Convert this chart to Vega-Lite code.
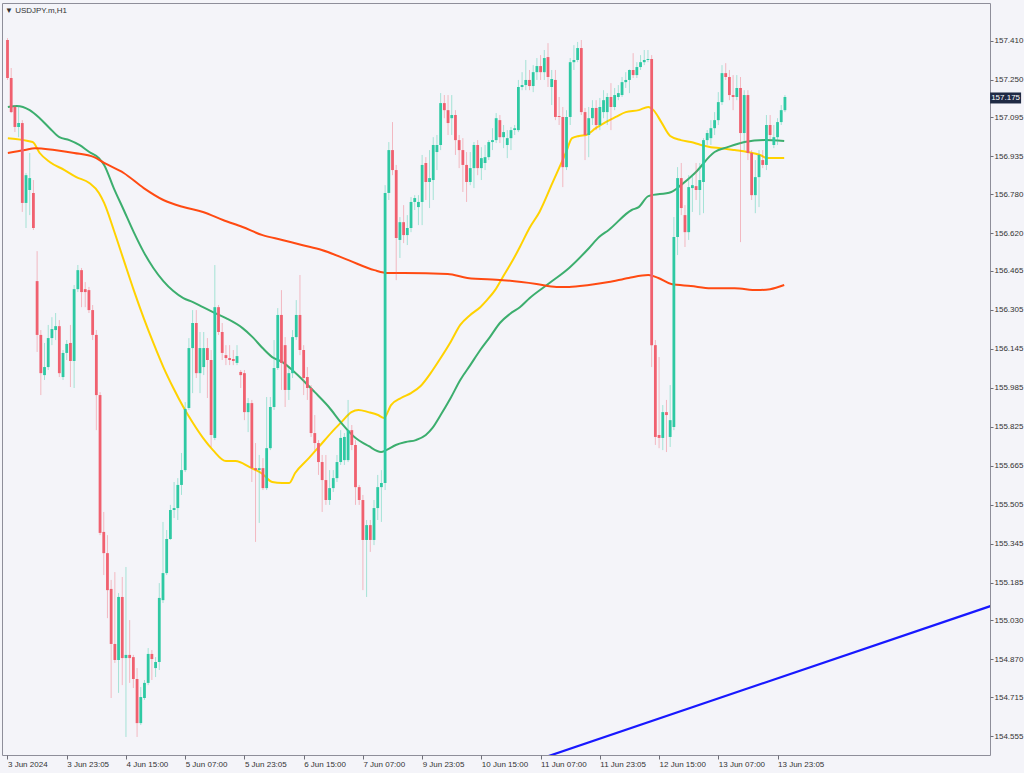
{
"$schema": "https://vega.github.io/schema/vega-lite/v6.json",
"width": 988, "height": 752,
"autosize": {"type": "none"},
"padding": {"left": 2, "top": 3, "right": 34, "bottom": 18},
"background": "#f4f4f9",
"title": {"text": "▼ USDJPY.m,H1", "anchor": "start", "orient": "top", "frame": "group", "offset": -12, "dx": 3, "fontSize": 8, "fontWeight": "normal", "color": "#333333", "font": "Liberation Sans Narrow, Liberation Sans"},
"config": {"view": {"stroke": "#8e8e9a", "strokeWidth": 1}, "font": "Liberation Sans Narrow, Liberation Sans"},
"datasets": {
"candles": [
{"t":0,"o":157.413,"h":157.421,"l":157.249,"c":157.257},
{"t":1,"o":157.257,"h":157.298,"l":157.113,"c":157.117},
{"t":2,"o":157.138,"h":157.146,"l":157.035,"c":157.056},
{"t":3,"o":157.056,"h":157.146,"l":157.014,"c":157.072},
{"t":4,"o":157.072,"h":157.084,"l":156.707,"c":156.744},
{"t":5,"o":156.744,"h":156.867,"l":156.641,"c":156.858},
{"t":6,"o":156.797,"h":156.949,"l":156.694,"c":156.846},
{"t":7,"o":156.785,"h":156.838,"l":156.633,"c":156.641},
{"t":8,"o":156.423,"h":156.546,"l":156.132,"c":156.202},
{"t":9,"o":156.202,"h":156.222,"l":155.955,"c":156.045},
{"t":10,"o":156.037,"h":156.169,"l":156.017,"c":156.070},
{"t":11,"o":156.070,"h":156.243,"l":156.058,"c":156.189},
{"t":12,"o":156.189,"h":156.275,"l":156.160,"c":156.226},
{"t":13,"o":156.222,"h":156.292,"l":156.181,"c":156.238},
{"t":14,"o":156.238,"h":156.263,"l":156.029,"c":156.045},
{"t":15,"o":156.029,"h":156.140,"l":156.017,"c":156.128},
{"t":16,"o":156.128,"h":156.181,"l":156.099,"c":156.165},
{"t":17,"o":156.169,"h":156.243,"l":155.988,"c":156.095},
{"t":18,"o":156.095,"h":156.407,"l":155.984,"c":156.390},
{"t":19,"o":156.390,"h":156.489,"l":156.378,"c":156.468},
{"t":20,"o":156.468,"h":156.477,"l":156.316,"c":156.378},
{"t":21,"o":156.390,"h":156.419,"l":156.316,"c":156.378},
{"t":22,"o":156.386,"h":156.399,"l":156.292,"c":156.304},
{"t":23,"o":156.304,"h":156.325,"l":156.181,"c":156.202},
{"t":24,"o":156.202,"h":156.222,"l":155.811,"c":155.955},
{"t":25,"o":155.955,"h":155.967,"l":155.380,"c":155.389},
{"t":26,"o":155.393,"h":155.475,"l":155.216,"c":155.306},
{"t":27,"o":155.306,"h":155.380,"l":155.039,"c":155.154},
{"t":28,"o":155.159,"h":155.196,"l":154.711,"c":154.933},
{"t":29,"o":154.933,"h":155.228,"l":154.855,"c":154.867},
{"t":30,"o":154.867,"h":155.142,"l":154.732,"c":155.126},
{"t":31,"o":155.126,"h":155.208,"l":154.764,"c":154.875},
{"t":32,"o":154.875,"h":155.249,"l":154.551,"c":154.888},
{"t":33,"o":154.888,"h":155.031,"l":154.773,"c":154.875},
{"t":34,"o":154.879,"h":154.888,"l":154.752,"c":154.789},
{"t":35,"o":154.789,"h":154.834,"l":154.551,"c":154.608},
{"t":36,"o":154.608,"h":154.756,"l":154.600,"c":154.715},
{"t":37,"o":154.711,"h":154.785,"l":154.703,"c":154.773},
{"t":38,"o":154.773,"h":154.916,"l":154.764,"c":154.892},
{"t":39,"o":154.892,"h":154.908,"l":154.785,"c":154.871},
{"t":40,"o":154.834,"h":154.879,"l":154.797,"c":154.859},
{"t":41,"o":154.859,"h":155.183,"l":154.826,"c":155.122},
{"t":42,"o":155.113,"h":155.434,"l":155.101,"c":155.224},
{"t":43,"o":155.224,"h":155.401,"l":155.216,"c":155.364},
{"t":44,"o":155.364,"h":155.504,"l":155.360,"c":155.483},
{"t":45,"o":155.483,"h":155.598,"l":155.450,"c":155.491},
{"t":46,"o":155.491,"h":155.614,"l":155.442,"c":155.586},
{"t":47,"o":155.586,"h":155.717,"l":155.545,"c":155.647},
{"t":48,"o":155.647,"h":155.926,"l":155.639,"c":155.898},
{"t":49,"o":155.902,"h":156.189,"l":155.894,"c":156.148},
{"t":50,"o":156.148,"h":156.304,"l":155.963,"c":156.251},
{"t":51,"o":156.251,"h":156.304,"l":156.025,"c":156.045},
{"t":52,"o":156.045,"h":156.214,"l":155.963,"c":156.148},
{"t":53,"o":156.070,"h":156.214,"l":156.037,"c":156.148},
{"t":54,"o":156.148,"h":156.189,"l":155.943,"c":156.099},
{"t":55,"o":156.099,"h":156.140,"l":155.742,"c":155.791},
{"t":56,"o":155.779,"h":156.489,"l":155.770,"c":156.316},
{"t":57,"o":156.316,"h":156.325,"l":156.202,"c":156.214},
{"t":58,"o":156.214,"h":156.251,"l":156.099,"c":156.128},
{"t":59,"o":156.119,"h":156.160,"l":156.078,"c":156.107},
{"t":60,"o":156.107,"h":156.160,"l":156.078,"c":156.099},
{"t":61,"o":156.103,"h":156.140,"l":156.078,"c":156.095},
{"t":62,"o":156.087,"h":156.160,"l":156.078,"c":156.115},
{"t":63,"o":156.050,"h":156.058,"l":155.984,"c":156.037},
{"t":64,"o":156.045,"h":156.058,"l":155.852,"c":155.885},
{"t":65,"o":155.885,"h":155.943,"l":155.803,"c":155.922},
{"t":66,"o":155.922,"h":155.935,"l":155.598,"c":155.655},
{"t":67,"o":155.655,"h":155.758,"l":155.352,"c":155.647},
{"t":68,"o":155.647,"h":155.709,"l":155.430,"c":155.655},
{"t":69,"o":155.655,"h":155.696,"l":155.565,"c":155.573},
{"t":70,"o":155.573,"h":155.947,"l":155.565,"c":155.737},
{"t":71,"o":155.737,"h":155.947,"l":155.729,"c":155.906},
{"t":72,"o":155.906,"h":156.181,"l":155.894,"c":156.066},
{"t":73,"o":156.066,"h":156.312,"l":156.058,"c":156.284},
{"t":74,"o":156.284,"h":156.386,"l":155.976,"c":156.087},
{"t":75,"o":156.160,"h":156.193,"l":155.906,"c":155.976},
{"t":76,"o":155.976,"h":156.066,"l":155.935,"c":156.045},
{"t":77,"o":156.045,"h":156.222,"l":156.025,"c":156.193},
{"t":78,"o":156.193,"h":156.345,"l":156.181,"c":156.284},
{"t":79,"o":156.284,"h":156.448,"l":156.119,"c":156.140},
{"t":80,"o":156.140,"h":156.160,"l":155.955,"c":156.025},
{"t":81,"o":156.029,"h":156.070,"l":155.935,"c":155.984},
{"t":82,"o":155.984,"h":155.996,"l":155.783,"c":155.799},
{"t":83,"o":155.799,"h":155.873,"l":155.729,"c":155.758},
{"t":84,"o":155.758,"h":155.770,"l":155.627,"c":155.680},
{"t":85,"o":155.680,"h":155.709,"l":155.475,"c":155.606},
{"t":86,"o":155.606,"h":155.709,"l":155.504,"c":155.524},
{"t":87,"o":155.524,"h":155.647,"l":155.504,"c":155.573},
{"t":88,"o":155.573,"h":155.647,"l":155.557,"c":155.614},
{"t":89,"o":155.614,"h":155.709,"l":155.598,"c":155.680},
{"t":90,"o":155.680,"h":155.811,"l":155.668,"c":155.779},
{"t":91,"o":155.688,"h":155.799,"l":155.668,"c":155.783},
{"t":92,"o":155.688,"h":155.935,"l":155.680,"c":155.811},
{"t":93,"o":155.811,"h":155.832,"l":155.729,"c":155.750},
{"t":94,"o":155.750,"h":155.770,"l":155.504,"c":155.577},
{"t":95,"o":155.577,"h":155.586,"l":155.504,"c":155.524},
{"t":96,"o":155.524,"h":155.545,"l":155.154,"c":155.360},
{"t":97,"o":155.360,"h":155.442,"l":155.126,"c":155.421},
{"t":98,"o":155.421,"h":155.442,"l":155.311,"c":155.360},
{"t":99,"o":155.360,"h":155.524,"l":155.339,"c":155.491},
{"t":100,"o":155.491,"h":155.627,"l":155.442,"c":155.577},
{"t":101,"o":155.577,"h":155.647,"l":155.434,"c":155.594},
{"t":102,"o":155.594,"h":156.817,"l":155.565,"c":156.785},
{"t":103,"o":156.785,"h":156.994,"l":156.756,"c":156.961},
{"t":104,"o":156.961,"h":157.076,"l":156.858,"c":156.879},
{"t":105,"o":156.879,"h":156.900,"l":156.427,"c":156.600},
{"t":106,"o":156.592,"h":156.686,"l":156.518,"c":156.665},
{"t":107,"o":156.665,"h":156.735,"l":156.579,"c":156.612},
{"t":108,"o":156.612,"h":156.694,"l":156.571,"c":156.641},
{"t":109,"o":156.641,"h":156.768,"l":156.624,"c":156.748},
{"t":110,"o":156.748,"h":156.776,"l":156.715,"c":156.764},
{"t":111,"o":156.727,"h":156.776,"l":156.653,"c":156.748},
{"t":112,"o":156.748,"h":156.941,"l":156.653,"c":156.900},
{"t":113,"o":156.908,"h":156.932,"l":156.756,"c":156.830},
{"t":114,"o":156.830,"h":156.961,"l":156.723,"c":156.846},
{"t":115,"o":156.838,"h":157.014,"l":156.756,"c":156.982},
{"t":116,"o":156.953,"h":157.023,"l":156.879,"c":156.982},
{"t":117,"o":156.982,"h":157.195,"l":156.961,"c":157.154},
{"t":118,"o":157.154,"h":157.187,"l":157.092,"c":157.125},
{"t":119,"o":157.125,"h":157.187,"l":157.023,"c":157.072},
{"t":120,"o":157.092,"h":157.187,"l":157.023,"c":157.105},
{"t":121,"o":157.105,"h":157.125,"l":156.941,"c":157.002},
{"t":122,"o":157.002,"h":157.023,"l":156.887,"c":156.961},
{"t":123,"o":156.961,"h":157.010,"l":156.789,"c":156.900},
{"t":124,"o":156.900,"h":156.953,"l":156.748,"c":156.830},
{"t":125,"o":156.830,"h":156.953,"l":156.817,"c":156.887},
{"t":126,"o":156.887,"h":156.994,"l":156.805,"c":156.982},
{"t":127,"o":156.982,"h":157.002,"l":156.858,"c":156.887},
{"t":128,"o":156.887,"h":156.973,"l":156.838,"c":156.928},
{"t":129,"o":156.908,"h":156.982,"l":156.879,"c":156.932},
{"t":130,"o":156.932,"h":157.002,"l":156.920,"c":156.994},
{"t":131,"o":156.994,"h":157.051,"l":156.961,"c":157.002},
{"t":132,"o":157.002,"h":157.113,"l":156.990,"c":157.092},
{"t":133,"o":157.084,"h":157.105,"l":156.990,"c":157.014},
{"t":134,"o":157.014,"h":157.064,"l":156.969,"c":157.035},
{"t":135,"o":156.982,"h":157.043,"l":156.928,"c":157.010},
{"t":136,"o":157.010,"h":157.056,"l":156.961,"c":157.043},
{"t":137,"o":157.043,"h":157.064,"l":157.023,"c":157.051},
{"t":138,"o":157.043,"h":157.249,"l":157.035,"c":157.220},
{"t":139,"o":157.220,"h":157.281,"l":157.207,"c":157.228},
{"t":140,"o":157.228,"h":157.331,"l":157.207,"c":157.249},
{"t":141,"o":157.249,"h":157.290,"l":157.207,"c":157.224},
{"t":142,"o":157.224,"h":157.310,"l":157.199,"c":157.281},
{"t":143,"o":157.281,"h":157.339,"l":157.249,"c":157.306},
{"t":144,"o":157.306,"h":157.351,"l":157.249,"c":157.281},
{"t":145,"o":157.281,"h":157.372,"l":157.249,"c":157.339},
{"t":146,"o":157.343,"h":157.400,"l":157.220,"c":157.261},
{"t":147,"o":157.220,"h":157.290,"l":157.146,"c":157.253},
{"t":148,"o":157.249,"h":157.290,"l":157.084,"c":157.097},
{"t":149,"o":157.101,"h":157.179,"l":157.064,"c":157.097},
{"t":150,"o":157.097,"h":157.138,"l":156.809,"c":156.891},
{"t":151,"o":156.891,"h":157.125,"l":156.879,"c":157.097},
{"t":152,"o":157.097,"h":157.339,"l":157.064,"c":157.322},
{"t":153,"o":157.322,"h":157.392,"l":157.290,"c":157.331},
{"t":154,"o":157.331,"h":157.405,"l":157.322,"c":157.380},
{"t":155,"o":157.380,"h":157.413,"l":157.105,"c":157.117},
{"t":156,"o":157.117,"h":157.134,"l":156.920,"c":157.023},
{"t":157,"o":157.023,"h":157.138,"l":156.932,"c":157.092},
{"t":158,"o":157.092,"h":157.166,"l":157.064,"c":157.134},
{"t":159,"o":157.134,"h":157.166,"l":157.043,"c":157.064},
{"t":160,"o":157.064,"h":157.175,"l":157.043,"c":157.138},
{"t":161,"o":157.117,"h":157.207,"l":157.092,"c":157.166},
{"t":162,"o":157.117,"h":157.195,"l":157.064,"c":157.179},
{"t":163,"o":157.179,"h":157.236,"l":157.043,"c":157.138},
{"t":164,"o":157.138,"h":157.216,"l":157.125,"c":157.187},
{"t":165,"o":157.179,"h":157.228,"l":157.166,"c":157.195},
{"t":166,"o":157.187,"h":157.261,"l":157.179,"c":157.240},
{"t":167,"o":157.240,"h":157.281,"l":157.216,"c":157.249},
{"t":168,"o":157.249,"h":157.292,"l":157.195,"c":157.290},
{"t":169,"o":157.290,"h":157.359,"l":157.257,"c":157.269},
{"t":170,"o":157.269,"h":157.322,"l":157.257,"c":157.302},
{"t":171,"o":157.302,"h":157.351,"l":157.290,"c":157.322},
{"t":172,"o":157.322,"h":157.372,"l":157.310,"c":157.331},
{"t":173,"o":157.331,"h":157.372,"l":157.322,"c":157.335},
{"t":174,"o":157.335,"h":157.351,"l":156.070,"c":156.160},
{"t":175,"o":156.160,"h":156.181,"l":155.750,"c":155.783},
{"t":176,"o":155.791,"h":156.111,"l":155.737,"c":155.779},
{"t":177,"o":155.779,"h":155.914,"l":155.729,"c":155.885},
{"t":178,"o":155.885,"h":155.935,"l":155.721,"c":155.873},
{"t":179,"o":155.783,"h":155.996,"l":155.742,"c":155.852},
{"t":180,"o":155.824,"h":156.686,"l":155.811,"c":156.604},
{"t":181,"o":156.604,"h":156.891,"l":156.530,"c":156.846},
{"t":182,"o":156.846,"h":156.908,"l":156.694,"c":156.723},
{"t":183,"o":156.694,"h":156.735,"l":156.563,"c":156.624},
{"t":184,"o":156.624,"h":156.858,"l":156.592,"c":156.809},
{"t":185,"o":156.805,"h":156.858,"l":156.707,"c":156.817},
{"t":186,"o":156.813,"h":156.908,"l":156.756,"c":156.797},
{"t":187,"o":156.797,"h":156.908,"l":156.694,"c":156.838},
{"t":188,"o":156.830,"h":157.010,"l":156.702,"c":157.002},
{"t":189,"o":157.002,"h":157.043,"l":156.982,"c":157.031},
{"t":190,"o":157.010,"h":157.084,"l":156.982,"c":157.051},
{"t":191,"o":157.051,"h":157.117,"l":157.023,"c":157.084},
{"t":192,"o":157.084,"h":157.199,"l":157.064,"c":157.158},
{"t":193,"o":157.158,"h":157.310,"l":157.146,"c":157.277},
{"t":194,"o":157.277,"h":157.318,"l":157.249,"c":157.261},
{"t":195,"o":157.261,"h":157.290,"l":157.166,"c":157.187},
{"t":196,"o":157.187,"h":157.269,"l":157.125,"c":157.179},
{"t":197,"o":157.179,"h":157.269,"l":157.166,"c":157.216},
{"t":198,"o":157.216,"h":157.261,"l":156.583,"c":157.031},
{"t":199,"o":157.031,"h":157.207,"l":156.961,"c":157.187},
{"t":200,"o":157.187,"h":157.207,"l":156.920,"c":156.949},
{"t":201,"o":156.949,"h":156.961,"l":156.756,"c":156.776},
{"t":202,"o":156.776,"h":156.920,"l":156.702,"c":156.850},
{"t":203,"o":156.850,"h":156.961,"l":156.727,"c":156.941},
{"t":204,"o":156.920,"h":156.961,"l":156.887,"c":156.900},
{"t":205,"o":156.900,"h":157.105,"l":156.879,"c":157.064},
{"t":206,"o":157.064,"h":157.105,"l":157.002,"c":157.023},
{"t":207,"o":156.982,"h":157.064,"l":156.969,"c":157.014},
{"t":208,"o":157.014,"h":157.092,"l":156.982,"c":157.076},
{"t":209,"o":157.076,"h":157.146,"l":157.064,"c":157.125},
{"t":210,"o":157.125,"h":157.187,"l":157.117,"c":157.179}
],
"ma": [
{"s":"fast","t":0.1,"v":157.010},{"s":"fast","t":6.8,"v":156.994},{"s":"fast","t":8.7,"v":156.949},{"s":"fast","t":11.4,"v":156.912},{"s":"fast","t":15.4,"v":156.879},{"s":"fast","t":18.6,"v":156.850},{"s":"fast","t":22.1,"v":156.826},{"s":"fast","t":24.7,"v":156.785},{"s":"fast","t":26.1,"v":156.744},{"s":"fast","t":28.7,"v":156.633},{"s":"fast","t":31.4,"v":156.509},{"s":"fast","t":34.1,"v":156.386},{"s":"fast","t":36.8,"v":156.271},{"s":"fast","t":39.4,"v":156.169},{"s":"fast","t":42.1,"v":156.070},{"s":"fast","t":44.8,"v":155.984},{"s":"fast","t":47.5,"v":155.906},{"s":"fast","t":50.1,"v":155.840},{"s":"fast","t":52.8,"v":155.779},{"s":"fast","t":55.5,"v":155.729},{"s":"fast","t":59.0,"v":155.684},{"s":"fast","t":61.6,"v":155.684},{"s":"fast","t":65.4,"v":155.659},{"s":"fast","t":68.9,"v":155.631},{"s":"fast","t":71.5,"v":155.598},{"s":"fast","t":74.2,"v":155.594},{"s":"fast","t":76.1,"v":155.594},{"s":"fast","t":77.7,"v":155.635},{"s":"fast","t":81.4,"v":155.696},{"s":"fast","t":84.1,"v":155.742},{"s":"fast","t":87.6,"v":155.803},{"s":"fast","t":90.2,"v":155.844},{"s":"fast","t":92.9,"v":155.885},{"s":"fast","t":94.8,"v":155.894},{"s":"fast","t":97.5,"v":155.885},{"s":"fast","t":100.1,"v":155.873},{"s":"fast","t":101.7,"v":155.861},{"s":"fast","t":103.6,"v":155.914},{"s":"fast","t":106.3,"v":155.943},{"s":"fast","t":109.0,"v":155.963},{"s":"fast","t":111.6,"v":155.992},{"s":"fast","t":114.3,"v":156.045},{"s":"fast","t":117.0,"v":156.107},{"s":"fast","t":119.7,"v":156.173},{"s":"fast","t":122.3,"v":156.243},{"s":"fast","t":125.0,"v":156.284},{"s":"fast","t":127.7,"v":156.316},{"s":"fast","t":129.5,"v":156.345},{"s":"fast","t":131.7,"v":156.386},{"s":"fast","t":133.8,"v":156.440},{"s":"fast","t":136.2,"v":156.501},{"s":"fast","t":138.4,"v":156.563},{"s":"fast","t":141.0,"v":156.641},{"s":"fast","t":143.7,"v":156.707},{"s":"fast","t":147.2,"v":156.826},{"s":"fast","t":149.1,"v":156.891},{"s":"fast","t":150.9,"v":156.953},{"s":"fast","t":152.5,"v":157.010},{"s":"fast","t":154.4,"v":157.019},{"s":"fast","t":156.3,"v":157.023},{"s":"fast","t":158.9,"v":157.051},{"s":"fast","t":161.6,"v":157.076},{"s":"fast","t":164.3,"v":157.097},{"s":"fast","t":167.0,"v":157.117},{"s":"fast","t":170.5,"v":157.125},{"s":"fast","t":173.1,"v":157.138},{"s":"fast","t":174.5,"v":157.125},{"s":"fast","t":176.6,"v":157.076},{"s":"fast","t":179.0,"v":157.019},{"s":"fast","t":181.9,"v":157.002},{"s":"fast","t":184.6,"v":156.994},{"s":"fast","t":187.3,"v":156.982},{"s":"fast","t":190.0,"v":156.973},{"s":"fast","t":192.6,"v":156.969},{"s":"fast","t":196.4,"v":156.961},{"s":"fast","t":199.9,"v":156.953},{"s":"fast","t":203.3,"v":156.941},{"s":"fast","t":205.2,"v":156.928},{"s":"fast","t":207.4,"v":156.928},{"s":"fast","t":209.8,"v":156.928},
{"s":"mid","t":0.1,"v":157.138},{"s":"mid","t":2.5,"v":157.142},{"s":"mid","t":6.0,"v":157.125},{"s":"mid","t":8.7,"v":157.092},{"s":"mid","t":11.4,"v":157.051},{"s":"mid","t":14.0,"v":157.014},{"s":"mid","t":16.7,"v":157.002},{"s":"mid","t":19.4,"v":156.982},{"s":"mid","t":22.1,"v":156.953},{"s":"mid","t":24.7,"v":156.928},{"s":"mid","t":26.1,"v":156.900},{"s":"mid","t":28.7,"v":156.805},{"s":"mid","t":31.4,"v":156.715},{"s":"mid","t":34.1,"v":156.624},{"s":"mid","t":36.8,"v":156.542},{"s":"mid","t":39.4,"v":156.477},{"s":"mid","t":42.1,"v":156.423},{"s":"mid","t":44.8,"v":156.382},{"s":"mid","t":47.5,"v":156.353},{"s":"mid","t":50.1,"v":156.337},{"s":"mid","t":52.8,"v":156.316},{"s":"mid","t":55.5,"v":156.296},{"s":"mid","t":59.0,"v":156.271},{"s":"mid","t":63.5,"v":156.230},{"s":"mid","t":66.2,"v":156.193},{"s":"mid","t":68.9,"v":156.148},{"s":"mid","t":71.5,"v":156.111},{"s":"mid","t":74.2,"v":156.091},{"s":"mid","t":76.9,"v":156.058},{"s":"mid","t":80.3,"v":156.009},{"s":"mid","t":83.0,"v":155.967},{"s":"mid","t":86.8,"v":155.906},{"s":"mid","t":90.2,"v":155.840},{"s":"mid","t":93.7,"v":155.783},{"s":"mid","t":97.5,"v":155.746},{"s":"mid","t":100.9,"v":155.721},{"s":"mid","t":102.3,"v":155.729},{"s":"mid","t":104.9,"v":155.750},{"s":"mid","t":107.6,"v":155.762},{"s":"mid","t":110.3,"v":155.770},{"s":"mid","t":113.0,"v":155.791},{"s":"mid","t":114.8,"v":155.820},{"s":"mid","t":117.0,"v":155.873},{"s":"mid","t":119.7,"v":155.943},{"s":"mid","t":122.3,"v":156.017},{"s":"mid","t":125.0,"v":156.078},{"s":"mid","t":127.7,"v":156.140},{"s":"mid","t":130.3,"v":156.193},{"s":"mid","t":133.0,"v":156.251},{"s":"mid","t":135.7,"v":156.288},{"s":"mid","t":138.4,"v":156.316},{"s":"mid","t":141.0,"v":156.353},{"s":"mid","t":146.4,"v":156.415},{"s":"mid","t":151.7,"v":156.477},{"s":"mid","t":157.1,"v":156.559},{"s":"mid","t":159.8,"v":156.604},{"s":"mid","t":162.4,"v":156.633},{"s":"mid","t":168.6,"v":156.715},{"s":"mid","t":170.5,"v":156.727},{"s":"mid","t":173.1,"v":156.772},{"s":"mid","t":179.3,"v":156.789},{"s":"mid","t":181.9,"v":156.817},{"s":"mid","t":185.7,"v":156.867},{"s":"mid","t":191.0,"v":156.953},{"s":"mid","t":194.5,"v":156.973},{"s":"mid","t":199.1,"v":156.994},{"s":"mid","t":204.4,"v":157.002},{"s":"mid","t":209.8,"v":156.998},
{"s":"slow","t":0.1,"v":156.949},{"s":"slow","t":4.7,"v":156.961},{"s":"slow","t":7.4,"v":156.969},{"s":"slow","t":12.7,"v":156.961},{"s":"slow","t":18.0,"v":156.949},{"s":"slow","t":23.4,"v":156.932},{"s":"slow","t":26.1,"v":156.908},{"s":"slow","t":31.4,"v":156.867},{"s":"slow","t":36.8,"v":156.805},{"s":"slow","t":42.1,"v":156.756},{"s":"slow","t":47.5,"v":156.727},{"s":"slow","t":52.8,"v":156.707},{"s":"slow","t":58.2,"v":156.674},{"s":"slow","t":63.5,"v":156.645},{"s":"slow","t":68.9,"v":156.612},{"s":"slow","t":74.2,"v":156.592},{"s":"slow","t":79.5,"v":156.571},{"s":"slow","t":84.9,"v":156.551},{"s":"slow","t":92.1,"v":156.509},{"s":"slow","t":99.1,"v":156.468},{"s":"slow","t":102.8,"v":156.456},{"s":"slow","t":107.1,"v":156.456},{"s":"slow","t":118.9,"v":156.452},{"s":"slow","t":124.2,"v":156.436},{"s":"slow","t":133.8,"v":156.427},{"s":"slow","t":142.9,"v":156.411},{"s":"slow","t":148.3,"v":156.399},{"s":"slow","t":151.7,"v":156.399},{"s":"slow","t":157.1,"v":156.407},{"s":"slow","t":162.4,"v":156.419},{"s":"slow","t":167.8,"v":156.436},{"s":"slow","t":173.1,"v":156.448},{"s":"slow","t":175.8,"v":156.436},{"s":"slow","t":179.3,"v":156.411},{"s":"slow","t":184.6,"v":156.403},{"s":"slow","t":190.0,"v":156.394},{"s":"slow","t":196.4,"v":156.394},{"s":"slow","t":202.5,"v":156.386},{"s":"slow","t":206.0,"v":156.390},{"s":"slow","t":209.8,"v":156.407}
],
"trend": [{"t":140,"p":154.441},{"t":272,"p":155.122}],
"tag": [{"price":157.175,"label":"157.175"}]
},
"layer": [
{
"data": {"name": "ma"},
"mark": {"type": "line", "strokeWidth": 2, "clip": true, "interpolate": "monotone"},
"encoding": {
"x": {"field": "t", "type": "quantitative", "title": null,
  "scale": {"domain": [-0.134, 264.04], "nice": false, "zero": false},
  "axis": {"values": [0,16,32,48,64,80,96,112,128,144,160,176,192,208],
    "labelExpr": "['3 Jun 2024','3 Jun 23:05','4 Jun 15:00','5 Jun 07:00','5 Jun 23:05','6 Jun 15:00','7 Jun 07:00','9 Jun 23:05','10 Jun 15:00','11 Jun 07:00','11 Jun 23:05','12 Jun 15:00','13 Jun 07:00','13 Jun 23:05'][round(datum.value/16)]",
    "title": null, "grid": false, "domain": false, "tickSize": 4, "tickColor": "#6e6e78", "labelAlign": "left", "labelPadding": 1, "labelFontSize": 8, "labelColor": "#333333", "labelFlush": false, "labelOverlap": false, "labelBound": false}},
"y": {"field": "v", "type": "quantitative", "title": null,
  "scale": {"domain": [154.477, 157.565], "nice": false, "zero": false},
  "axis": {"orient": "right", "values": [154.555,154.715,154.870,155.030,155.185,155.345,155.505,155.665,155.825,155.985,156.145,156.305,156.465,156.620,156.780,156.935,157.095,157.250,157.410],
    "format": ".3f", "title": null, "grid": false, "domain": false, "tickSize": 3, "tickColor": "#6e6e78", "labelPadding": 1, "labelFontSize": 8, "labelColor": "#333333", "labelAlign": "left", "labelBaseline": "middle", "labelOverlap": false, "labelFlush": false}},
"color": {"field": "s", "type": "nominal", "scale": {"domain": ["fast", "mid", "slow"], "range": ["#ffd200", "#3cae6e", "#ff4a12"]}, "legend": null},
"order": {"field": "t", "type": "quantitative"}
}
},
{
"data": {"name": "trend"},
"mark": {"type": "line", "strokeWidth": 2.2, "clip": true, "color": "#1818ff"},
"encoding": {
"x": {"field": "t", "type": "quantitative", "title": null},
"y": {"field": "p", "type": "quantitative", "title": null}
}
},
{
"data": {"name": "candles"},
"mark": {"type": "rule", "strokeWidth": 1, "opacity": 0.4},
"encoding": {
"x": {"field": "t", "type": "quantitative", "title": null},
"y": {"field": "l", "type": "quantitative", "title": null},
"y2": {"field": "h"},
"color": {"condition": {"test": "datum.c >= datum.o", "value": "#2ec9a3"}, "value": "#f0606f"}
}
},
{
"data": {"name": "candles"},
"mark": {"type": "bar", "width": 2.8, "orient": "vertical", "minBandSize": 1},
"encoding": {
"x": {"field": "t", "type": "quantitative", "title": null},
"y": {"field": "o", "type": "quantitative", "title": null},
"y2": {"field": "c"},
"color": {"condition": {"test": "datum.c >= datum.o", "value": "#2ec9a3"}, "value": "#f0606f"}
}
},
{
"data": {"name": "tag"},
"mark": {"type": "point", "shape": "M-3.1,-1.1H3.1V1.1H-3.1Z", "size": 100, "filled": true, "color": "#1f2a44", "opacity": 1, "clip": false},
"encoding": {
"x": {"datum": 269.6, "type": "quantitative", "title": null},
"y": {"field": "price", "type": "quantitative", "title": null}
}
},
{
"data": {"name": "tag"},
"mark": {"type": "text", "color": "#ffffff", "fontSize": 8, "align": "center", "baseline": "middle", "clip": false},
"encoding": {
"x": {"datum": 269.6, "type": "quantitative", "title": null},
"y": {"field": "price", "type": "quantitative", "title": null},
"text": {"field": "label"}
}
}
]
}
